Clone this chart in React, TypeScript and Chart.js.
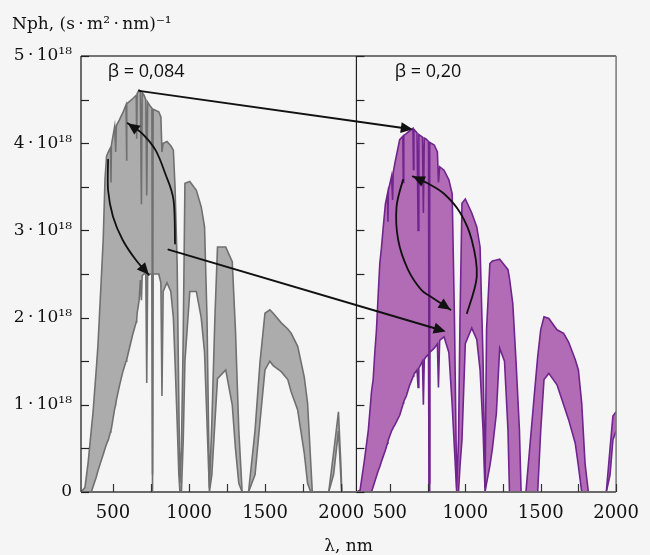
import React, { useEffect, useRef } from 'react';
import { Chart, registerables } from 'chart.js';

Chart.register(...registerables);

// ---------- data (photon flux in units of 1e18 (s·m²·nm)^-1) ----------
// Panel β = 0,084
const lambda084 = [
  290, 316, 337, 358, 369, 390, 401, 412, 423, 436, 448, 458, 470, 484, 487, 490,
  511, 518, 522, 543, 565, 586, 589, 592, 629, 653, 656, 659, 672, 680, 687, 692,
  704, 716, 722, 728, 747, 756, 760, 764, 801, 815, 822, 830, 855, 880, 897, 908,
  922, 933, 940, 950, 962, 973, 1005, 1048, 1080, 1102, 1118, 1134, 1150, 1170, 1187, 1241,
  1284, 1305, 1327, 1349, 1391, 1434, 1466, 1499, 1531, 1553, 1606, 1649, 1671, 1714, 1757, 1779,
  1800, 1810, 1918, 1950, 1982, 1997, 2004, 2100,
];
const upper084 = [
  0, 0.05, 0.34, 0.72, 0.91, 1.4, 1.67, 2.05, 2.43, 2.9, 3.6, 3.85, 3.9, 3.95, 3.55, 3.98,
  4.19, 3.9, 4.2, 4.27, 4.35, 4.44, 3.8, 4.45, 4.51, 4.55, 4.05, 4.57, 4.61, 4.6, 3.3, 4.58,
  4.55, 4.5, 3.4, 4.47, 4.42, 4.4, 0.2, 4.39, 4.36, 4.3, 3.9, 4.0, 4.02, 3.97, 3.92, 3.5,
  2.6, 1.0, 0.1, 0.5, 1.8, 3.54, 3.56, 3.46, 3.27, 3.04, 2.0, 0.05, 0.8, 2.0, 2.81, 2.81,
  2.64, 1.86, 0.71, 0, 0, 0.71, 1.48, 2.05, 2.09, 2.05, 1.94, 1.87, 1.82, 1.67, 1.32, 1.02,
  0.33, 0, 0, 0.45, 0.92, 0.34, 0, 0,
];
const lower084 = [
  0, 0, 0, 0, 0.06, 0.17, 0.24, 0.3, 0.36, 0.43, 0.5, 0.55, 0.6, 0.69, 0.71, 0.73,
  0.95, 1.0, 1.05, 1.22, 1.38, 1.5, 1.5, 1.52, 1.8, 1.95, 1.97, 2.05, 2.2, 2.43, 2.2, 2.48,
  2.5, 2.5, 1.25, 2.5, 2.5, 2.5, 0, 2.5, 2.5, 2.4, 1.1, 2.3, 2.4, 2.3, 2.0, 1.5,
  0.8, 0.2, 0, 0, 0.6, 1.5, 2.3, 2.3, 2.0, 1.6, 0.8, 0, 0.2, 0.8, 1.3, 1.4,
  1.0, 0.5, 0.1, 0, 0, 0.2, 0.8, 1.4, 1.5, 1.45, 1.38, 1.29, 1.15, 0.94, 0.45, 0.1,
  0, 0, 0, 0.2, 0.7, 0.2, 0, 0,
];

// Panel β = 0,20
const lambda020 = [
  278, 302, 330, 357, 378, 389, 400, 411, 422, 433, 444, 454, 470, 484, 487, 490,
  511, 518, 522, 533, 565, 586, 589, 592, 609, 630, 653, 656, 659, 680, 687, 692,
  716, 722, 728, 739, 756, 760, 764, 794, 815, 822, 830, 859, 891, 913, 928, 943,
  955, 965, 978, 1000, 1043, 1076, 1098, 1118, 1131, 1141, 1163, 1180, 1206, 1228, 1260, 1283,
  1293, 1315, 1337, 1359, 1370, 1402, 1457, 1480, 1500, 1522, 1554, 1608, 1652, 1685, 1729, 1750,
  1772, 1794, 1816, 1935, 1960, 1979, 2000,
];
const upper020 = [
  0, 0.02, 0.35, 0.71, 1.15, 1.29, 1.6, 1.86, 2.25, 2.62, 2.8, 3.0, 3.3, 3.42, 3.1, 3.46,
  3.62, 3.35, 3.66, 3.77, 4.04, 4.08, 3.55, 4.09, 4.11, 4.14, 4.17, 3.7, 4.16, 4.12, 3.0, 4.1,
  4.07, 3.2, 4.06, 4.05, 4.02, 0.1, 4.01, 3.98, 3.9, 3.55, 3.73, 3.69, 3.58, 3.42, 2.0, 0.05,
  0.6, 2.0, 3.31, 3.36, 3.2, 3.04, 2.81, 1.5, 0.05, 1.86, 2.62, 2.65, 2.66, 2.67, 2.6, 2.55,
  2.45, 2.16, 1.48, 0.71, 0, 0, 1.1, 1.55, 1.86, 2.01, 1.99, 1.86, 1.82, 1.72, 1.52, 1.4,
  1.02, 0.33, 0, 0, 0.5, 0.87, 0.92,
];
const lower020 = [
  0, 0, 0, 0, 0, 0.06, 0.12, 0.18, 0.24, 0.29, 0.35, 0.4, 0.48, 0.56, 0.58, 0.6,
  0.7, 0.72, 0.74, 0.77, 0.88, 1.0, 1.02, 1.04, 1.1, 1.22, 1.32, 1.33, 1.35, 1.4, 1.2, 1.42,
  1.5, 1.0, 1.52, 1.55, 1.58, 0, 1.6, 1.65, 1.7, 1.2, 1.74, 1.78, 1.6, 1.0, 0.5, 0,
  0, 0.3, 0.6, 1.7, 1.88, 1.75, 1.4, 0.7, 0, 0.1, 0.3, 0.5, 0.9, 1.65, 1.5, 0.71,
  0, 0, 0, 0, 0, 0, 0, 0, 0.7, 1.29, 1.36, 1.23, 1.0, 0.83, 0.56, 0.3,
  0, 0, 0, 0, 0.2, 0.6, 0.7,
];

// ---------- ticks & texts ----------
const xTickValues = [500, 750, 1000, 1250, 1500, 1750, 2000];
const xTickLabels = ['500', '', '1000', '', '1500', '', '2000'];
const yTickValues = [0, 0.5, 1, 1.5, 2, 2.5, 3, 3.5, 4, 4.5, 5];
const yTickLabels = ['0', '', '1\u2009·\u200910¹⁸', '', '2\u2009·\u200910¹⁸', '', '3\u2009·\u200910¹⁸', '', '4\u2009·\u200910¹⁸', '', '5\u2009·\u200910¹⁸'];
const yTitle = 'Nph, (s\u2009·\u2009m²\u2009·\u2009nm)⁻¹';
const xTitle = 'λ, nm';
const panelLabels = ['β = 0,084', 'β = 0,20'];
// label anchors (axis id, λ, value)
const panelLabelAnchors: [string, number, number][] = [
  ['x1', 466, 4.82],
  ['x2', 533, 4.82],
];

// arrows (axis id, λ, value)
const straightArrows: [string, number, number][][] = [
  [['x1', 672, 4.6], ['x2', 652, 4.16]],
  [['x1', 865, 2.78], ['x2', 870, 1.84]],
];
const curvedArrows: [string, number, number][][] = [
  [['x1', 908, 2.85], ['x1', 898, 3.35], ['x1', 844, 3.65], ['x1', 780, 3.92], ['x1', 693, 4.11], ['x1', 597, 4.23]],
  [['x1', 468, 3.81], ['x1', 468, 3.46], ['x1', 500, 3.16], ['x1', 564, 2.89], ['x1', 651, 2.66], ['x1', 736, 2.49]],
  [['x2', 1011, 2.05], ['x2', 1076, 2.47], ['x2', 1043, 2.89], ['x2', 967, 3.2], ['x2', 859, 3.42], ['x2', 750, 3.54], ['x2', 652, 3.62]],
  [['x2', 587, 3.58], ['x2', 544, 3.27], ['x2', 555, 2.89], ['x2', 620, 2.55], ['x2', 707, 2.32], ['x2', 772, 2.24], ['x2', 902, 2.09]],
];

const BG = '#f5f5f5';
const GRAY_FILL = 'rgb(172,172,172)';
const GRAY_LINE = 'rgb(112,112,112)';
const PURPLE_FILL = 'rgb(178,108,182)';
const PURPLE_LINE = 'rgb(112,36,142)';
const SERIF = 'DejaVu Serif';
const SANS = 'Open Sans';

function toPts(xs: number[], ys: number[]) {
  return xs.map((x, i) => ({ x, y: ys[i] }));
}

const panelPlugin = {
  id: 'panelDecor',
  beforeDraw(chart: any) {
    const { ctx, width, height } = chart;
    ctx.save();
    ctx.fillStyle = BG;
    ctx.fillRect(0, 0, width, height);
    ctx.restore();
  },
  afterDatasetsDraw(chart: any) {
    const { ctx, chartArea: ca, scales } = chart;
    const x1 = scales.x1, x2 = scales.x2, y = scales.y;
    const px = (p: [string, number, number]) => [scales[p[0]].getPixelForValue(p[1]), y.getPixelForValue(p[2])];
    ctx.save();

    const line = (ax: number, ay: number, bx: number, by: number, color: string, w: number) => {
      ctx.beginPath();
      ctx.strokeStyle = color;
      ctx.lineWidth = w;
      ctx.moveTo(ax, ay);
      ctx.lineTo(bx, by);
      ctx.stroke();
    };

    // frame
    line(ca.left, ca.top, ca.right, ca.top, '#4a4a4a', 1.5);
    line(ca.right, ca.top, ca.right, ca.bottom, '#777', 1.5);
    line(x2.left, ca.top, x2.left, ca.bottom, '#222', 1.2);
    line(ca.left, ca.top, ca.left, ca.bottom, '#111', 1.2);
    line(ca.left, ca.bottom, ca.right, ca.bottom, '#6a6a6a', 2);

    // inward ticks
    for (const t of y.ticks) {
      const yy = Math.round(y.getPixelForValue(t.value)) + 0.5;
      line(ca.left, yy, ca.left + 8, yy, '#222', 1.2);
      line(x2.left, yy, x2.left + 8, yy, '#222', 1.2);
    }
    for (const sc of [x1, x2]) {
      for (const t of sc.ticks) {
        const xx = Math.round(sc.getPixelForValue(t.value)) + 0.5;
        line(xx, ca.bottom, xx, ca.bottom - 8, '#333', 1.2);
      }
    }

    // arrows
    const head = (tx: number, ty: number, fx: number, fy: number) => {
      const a = Math.atan2(ty - fy, tx - fx);
      const L = 12, W = 5.5;
      ctx.beginPath();
      ctx.fillStyle = '#111';
      ctx.moveTo(tx, ty);
      ctx.lineTo(tx - L * Math.cos(a) + W * Math.sin(a), ty - L * Math.sin(a) - W * Math.cos(a));
      ctx.lineTo(tx - L * Math.cos(a) - W * Math.sin(a), ty - L * Math.sin(a) + W * Math.cos(a));
      ctx.closePath();
      ctx.fill();
    };
    ctx.lineCap = 'round';
    for (const arr of straightArrows) {
      const [ax, ay] = px(arr[0]);
      const [bx, by] = px(arr[1]);
      const a = Math.atan2(by - ay, bx - ax);
      line(ax, ay, bx - 8 * Math.cos(a), by - 8 * Math.sin(a), '#111', 2);
      head(bx, by, ax, ay);
    }
    for (const arr of curvedArrows) {
      const p = arr.map(px);
      const n = p.length;
      ctx.beginPath();
      ctx.strokeStyle = '#111';
      ctx.lineWidth = 1.8;
      ctx.moveTo(p[0][0], p[0][1]);
      for (let i = 0; i < n - 1; i++) {
        const p0 = p[Math.max(i - 1, 0)], p1 = p[i], p2 = p[i + 1], p3 = p[Math.min(i + 2, n - 1)];
        const c1x = p1[0] + (p2[0] - p0[0]) / 6, c1y = p1[1] + (p2[1] - p0[1]) / 6;
        const c2x = p2[0] - (p3[0] - p1[0]) / 6, c2y = p2[1] - (p3[1] - p1[1]) / 6;
        ctx.bezierCurveTo(c1x, c1y, c2x, c2y, p2[0], p2[1]);
      }
      ctx.stroke();
      head(p[n - 1][0], p[n - 1][1], p[n - 2][0], p[n - 2][1]);
    }

    // texts
    ctx.fillStyle = '#111';
    ctx.textBaseline = 'middle';
    ctx.textAlign = 'left';
    ctx.font = `18px "${SANS}"`;
    panelLabels.forEach((txt, i) => {
      const [lx, ly] = px(panelLabelAnchors[i]);
      ctx.fillText(txt, lx, ly);
    });
    ctx.font = `17px "${SERIF}"`;
    ctx.textBaseline = 'alphabetic';
    ctx.fillText(yTitle, 12, 29);
    ctx.textAlign = 'center';
    ctx.fillText(xTitle, (ca.left + ca.right) / 2, 551);
    ctx.restore();
  },
};

export default function App() {
  const ref = useRef<HTMLCanvasElement | null>(null);
  useEffect(() => {
    document.body.style.margin = '0';
    document.body.style.background = BG;
    const canvas = ref.current!;
    const xScale = (min: number, max: number, weight: number) => ({
      type: 'linear' as const,
      position: 'bottom' as const,
      stack: 'lambda',
      stackWeight: weight,
      min,
      max,
      grid: { display: false, drawTicks: false },
      border: { display: false },
      afterBuildTicks: (s: any) => {
        s.ticks = xTickValues.map((v) => ({ value: v }));
      },
      afterFit: (s: any) => {
        s.height = 63;
      },
      ticks: {
        autoSkip: false,
        maxRotation: 0,
        padding: 11,
        color: '#111',
        font: { family: SERIF, size: 18 },
        callback: (v: any) => xTickLabels[xTickValues.indexOf(Number(v))] ?? '',
      },
    });
    const chart = new Chart(canvas, {
      type: 'line',
      data: {
        datasets: [
          { data: toPts(lambda084, upper084), xAxisID: 'x1', yAxisID: 'y', borderColor: GRAY_LINE, backgroundColor: GRAY_FILL, fill: '+1', borderWidth: 1.6, pointRadius: 0, tension: 0 },
          { data: toPts(lambda084, lower084), xAxisID: 'x1', yAxisID: 'y', borderColor: GRAY_LINE, backgroundColor: GRAY_FILL, fill: false, borderWidth: 1.6, pointRadius: 0, tension: 0 },
          { data: toPts(lambda020, upper020), xAxisID: 'x2', yAxisID: 'y', borderColor: PURPLE_LINE, backgroundColor: PURPLE_FILL, fill: '+1', borderWidth: 1.6, pointRadius: 0, tension: 0 },
          { data: toPts(lambda020, lower020), xAxisID: 'x2', yAxisID: 'y', borderColor: PURPLE_LINE, backgroundColor: PURPLE_FILL, fill: false, borderWidth: 1.6, pointRadius: 0, tension: 0 },
        ],
      },
      options: {
        animation: false,
        responsive: false,
        layout: { padding: { top: 56, right: 25, left: 0, bottom: 0 } },
        plugins: {
          legend: { display: false },
          tooltip: { enabled: false },
          title: { display: false },
          filler: { drawTime: 'beforeDatasetsDraw' },
        } as any,
        scales: {
          x1: xScale(290, 2100, 280),
          x2: xScale(278, 2000, 264),
          y: {
            type: 'linear',
            position: 'left',
            min: 0,
            max: 5,
            grid: { display: false, drawTicks: false },
            border: { display: false },
            afterBuildTicks: (s: any) => {
              s.ticks = yTickValues.map((v) => ({ value: v }));
            },
            afterFit: (s: any) => {
              s.width = 81;
            },
            ticks: {
              padding: 9,
              color: '#111',
              font: { family: SERIF, size: 17 },
              callback: (v: any) => yTickLabels[yTickValues.indexOf(Number(v))] ?? '',
            },
          },
        } as any,
      },
      plugins: [panelPlugin],
    });
    return () => chart.destroy();
  }, []);
  return <canvas ref={ref} width={650} height={555} style={{ display: 'block', width: 650, height: 555 }} />;
}
